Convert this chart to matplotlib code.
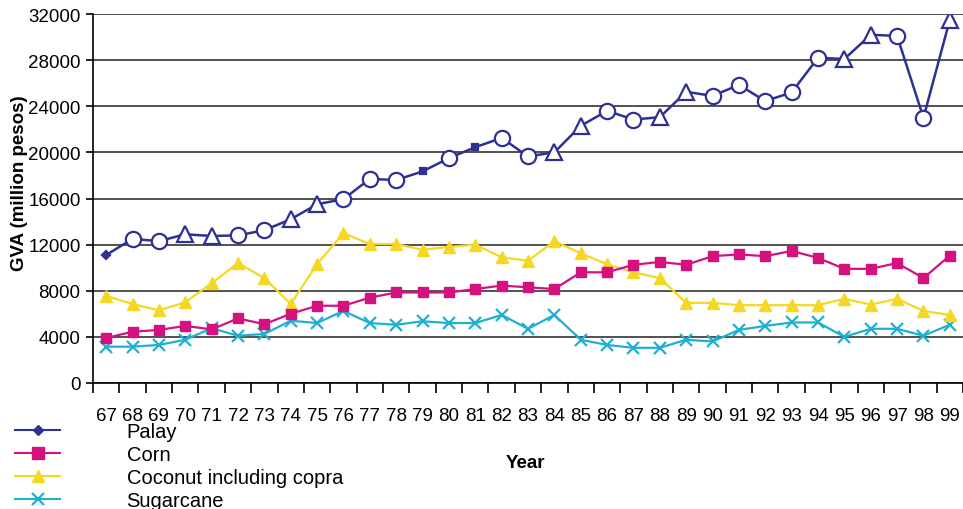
import matplotlib
matplotlib.use("Agg")
import matplotlib.pyplot as plt
from matplotlib.lines import Line2D

plt.rcParams['font.family'] = ['Liberation Sans', 'DejaVu Sans']

years = [str(y) for y in range(67, 100)]

palay = [11100, 12500, 12300, 12900, 12750, 12800, 13250, 14200, 15500, 15950,
         17700, 17600, 18350, 19500, 20450, 21250, 19650, 20000, 22300, 23600,
         22850, 23050, 25250, 24900, 25850, 24450, 25200, 28200, 28100, 30200,
         30100, 23000, 31500]
corn = [3900, 4450, 4600, 4950, 4650, 5600, 5100, 6000, 6700, 6700,
        7400, 7850, 7850, 7850, 8150, 8450, 8300, 8150, 9600, 9600,
        10250, 10500, 10250, 11000, 11150, 11000, 11450, 10850, 9900, 9900,
        10400, 9100, 11050]
coconut = [7550, 6850, 6300, 7000, 8650, 10400, 9100, 6850, 10300, 13000,
           12050, 12050, 11550, 11800, 12000, 10900, 10600, 12300, 11250, 10300,
           9600, 9100, 6950, 6950, 6750, 6750, 6750, 6750, 7300, 6800,
           7300, 6250, 5900]
sugarcane = [3150, 3150, 3300, 3750, 4750, 4100, 4250, 5400, 5200, 6250,
             5200, 5050, 5350, 5200, 5200, 5900, 4700, 5900, 3750, 3300,
             3050, 3050, 3750, 3600, 4600, 4950, 5250, 5250, 4000, 4700,
             4700, 4100, 5050]

# marker shape used for each Palay point
palay_marks = list("Doo^^oo^^ooososoo^^oo^^ooooo^^oo^")

navy = '#2e3192'
magenta = '#d4117e'
yellow = '#f5d824'
cyan = '#1eb0d2'

fig = plt.figure(figsize=(9.63, 5.1), dpi=100)
ax = fig.add_axes([93 / 963, 126 / 510, 870 / 963, 369 / 510])

x = list(range(len(years)))

ax.plot(x, sugarcane, color=cyan, lw=1.6, marker='x', ms=9, mew=1.6, zorder=3)
ax.plot(x, coconut, color=yellow, lw=1.6, marker='^', ms=9, zorder=3)
ax.plot(x, corn, color=magenta, lw=1.6, marker='s', ms=7.5, zorder=3)
ax.plot(x, palay, color=navy, lw=1.8, zorder=4)

big = {'o': 11, '^': 11, 's': 4.5, 'D': 4.5}
for xi, v, m in zip(x, palay, palay_marks):
    filled = m in ('s', 'D')
    ax.plot(xi, v, marker=m, ms=big[m], mec=navy, mew=1.6,
            mfc=navy if filled else 'white', ls='none', zorder=5)

ax.set_xlim(-0.5, len(years) - 0.5)
ax.set_ylim(0, 32000)
ax.set_yticks(range(0, 32001, 4000))
ax.yaxis.grid(True, color='#333333', lw=1.2)
ax.set_axisbelow(True)

ax.set_xticks(x)
ax.set_xticklabels(years)
ax.set_xticks([i - 0.5 for i in range(len(years) + 1)], minor=True)
ax.tick_params(axis='x', which='major', length=0, pad=17, labelsize=13.5)
ax.tick_params(axis='x', which='minor', length=7, width=1.2, direction='out')
ax.tick_params(axis='y', length=5, width=1.2, labelsize=13.5, pad=4)

for s in ('top', 'right'):
    ax.spines[s].set_visible(False)
for s in ('left', 'bottom'):
    ax.spines[s].set_linewidth(1.2)

fig.text(19 / 963, 1 - 183 / 510, 'GVA (million pesos)', rotation=90,
         ha='center', va='center', fontsize=13.5, fontweight='bold')
fig.text(525 / 963, 1 - 464 / 510, 'Year', ha='center', va='center',
         fontsize=13.5, fontweight='bold')

handles = [
    Line2D([], [], color=navy, lw=1.5, marker='D', ms=5),
    Line2D([], [], color=magenta, lw=1.5, marker='s', ms=8),
    Line2D([], [], color=yellow, lw=1.5, marker='^', ms=9),
    Line2D([], [], color=cyan, lw=1.5, marker='x', ms=9, mew=1.6),
]
labels = ['Palay', 'Corn', 'Coconut including copra', 'Sugarcane']
fig.legend(handles, labels, loc='upper left', bbox_to_anchor=(15 / 963, 1 - 423 / 510),
           frameon=False, fontsize=14.5, handlelength=2.24, handletextpad=3.3,
           labelspacing=0.2, borderpad=0, borderaxespad=0)

fig.savefig('out.png', dpi=100)
